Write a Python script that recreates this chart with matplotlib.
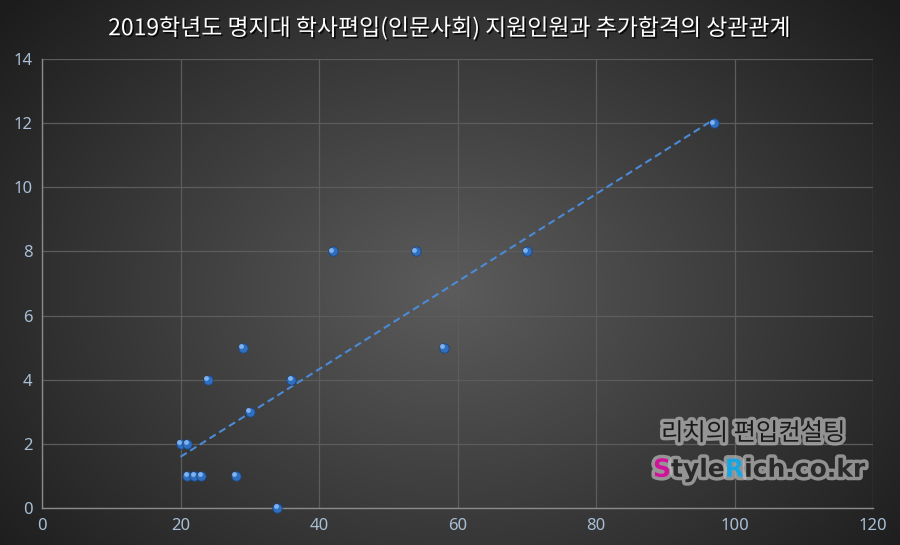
import numpy as np
import matplotlib
matplotlib.use('Agg')
import matplotlib.pyplot as plt
import matplotlib.patheffects as pe

plt.rcParams['font.family'] = ['Noto Sans CJK KR', 'DejaVu Sans']

# applicants (x) vs additional acceptances (y)
applicants = [20, 21, 21, 22, 23, 24, 28, 29, 30, 34, 36, 42, 54, 58, 70, 97]
extra_pass = [2, 2, 1, 1, 1, 4, 1, 5, 3, 0, 4, 8, 8, 5, 8, 12]

title = '2019학년도 명지대 학사편입(인문사회) 지원인원과 추가합격의 상관관계'
x_ticks = [0, 20, 40, 60, 80, 100, 120]
y_ticks = [0, 2, 4, 6, 8, 10, 12, 14]

fig = plt.figure(figsize=(9, 5.45), dpi=100)

# radial gradient background
bg = fig.add_axes([0, 0, 1, 1], zorder=-10)
yy, xx = np.mgrid[0:545, 0:900]
r = np.sqrt(((xx - 450) / 560.0) ** 2 + ((yy - 290) / 420.0) ** 2)
shade = np.clip(0.36 - 0.24 * r, 0.11, 0.36)
bg.imshow(np.dstack([shade, shade, shade]), aspect='auto', extent=[0, 1, 0, 1])
bg.axis('off')

ax = fig.add_axes([42 / 900, 37 / 545, 831 / 900, 449 / 545])
ax.patch.set_alpha(0)
ax.set_xlim(0, 120)
ax.set_ylim(0, 14)
ax.set_xticks(x_ticks)
ax.set_yticks(y_ticks)
ax.grid(True, color='#5c5c5c', linewidth=0.9)
ax.set_axisbelow(True)
for s in ['top', 'right']:
    ax.spines[s].set_visible(False)
for s in ['left', 'bottom']:
    ax.spines[s].set_color('#8a8a8a')
    ax.spines[s].set_linewidth(1.0)
ax.tick_params(length=0, colors='#a9bfd6', labelsize=12, pad=7)
for lab in ax.get_xticklabels() + ax.get_yticklabels():
    lab.set_family(['Noto Sans'])

# trend line
k, b = np.polyfit(applicants, extra_pass, 1)
tx = np.array([min(applicants), max(applicants)])
ax.plot(tx, k * tx + b, color='#4a8ad6', linestyle=(0, (3.5, 2)), linewidth=1.5, zorder=3)

# spherical markers
ax.scatter(applicants, extra_pass, s=46, color='#2f6fc0', edgecolors='#1d4680',
           linewidths=0.6, zorder=4, clip_on=False)
ax.scatter(np.array(applicants) - 0.25, np.array(extra_pass) + 0.05, s=12,
           color='#7fb2ee', linewidths=0, zorder=5, clip_on=False)

fig.text(0.5, 0.948, title, color='white', fontsize=16.5, ha='center', va='center',
         fontweight='medium',
         path_effects=[pe.withSimplePatchShadow(offset=(1.2, -1.2), shadow_rgbFace='black', alpha=0.8)])

# watermark
glow = [pe.withStroke(linewidth=5, foreground='#bdbdbd', alpha=0.7)]
fig.text(0.837, 0.205, '리치의 편입컨설팅', color='#1a1a1a', fontsize=17.5, ha='center',
         va='center', fontweight='normal', path_effects=glow)

fig.canvas.draw()
renderer = fig.canvas.get_renderer()
parts = [('S', '#d0149a'), ('tyle', '#2a2a2a'), ('R', '#1aa5e0'), ('ich.co.kr', '#2a2a2a')]
xp = 653 / 900
for t, c in parts:
    txt = fig.text(xp, 0.138, t, color=c, fontsize=18, ha='left', va='center',
                   fontweight='bold', family=['DejaVu Sans'], path_effects=glow)
    ext = txt.get_window_extent(renderer)
    xp += ext.width / 900

fig.savefig('out.png', dpi=100)
